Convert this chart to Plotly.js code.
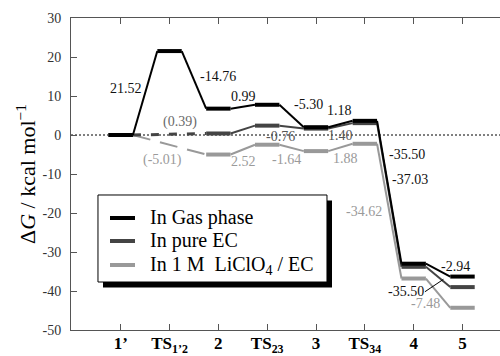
<!DOCTYPE html>
<html>
<head>
<meta charset="utf-8">
<script src="https://cdn.plot.ly/plotly-3.0.1.min.js"></script>
<style>
html, body { margin: 0; padding: 0; overflow: hidden; background: #fff; }
#chart { width: 500px; height: 356px; }
</style>
</head>
<body>
<div id="chart"></div>
<script>
// ---- data ----
const categories = ["1’", "TS<sub>1’2</sub>", "2", "TS<sub>23</sub>", "3", "TS<sub>34</sub>", "4", "5"];
const gasPhase = [0, 21.52, 6.76, 7.75, 2.0, 3.63, -33.0, -36.3];
const pureEC = [0, null, 0.39, 2.4, 1.64, 3.04, -33.8, -39.0];
const liClO4EC = [0, null, -5.01, -2.49, -4.13, -2.25, -36.8, -44.3];
const seriesNames = ["In Gas phase", "In pure EC", "In 1 M\u00a0\u00a0LiClO<sub>4</sub> / EC"];
const yTickValues = [-50, -40, -30, -20, -10, 0, 10, 20, 30];
const yTickLabels = ["-50", "-40", "-30", "-20", "-10", "0", "10", "20", "30"];
const stepLabels = ["21.52", "-14.76", "0.99", "-5.30", "1.18", "(0.39)", "(-5.01)", "2.52", "-0.76", "-1.64", "1.40", "1.88", "-35.50", "-37.03", "-34.62", "-2.94", "-35.50", "-7.48"];

// ---- layout / style config ----
const HW = 0.25;
const FONT = "Liberation Serif";
const colors = ["#000000", "#444444", "#999999"];
const labelColor = { k: "#111111", d: "#555555", m: "#6a6a6a", l: "#9a9a9a" };
// positions (data coords) and colour of each step label, in the order of stepLabels
const labelPos = [
  [0.11, 12.0, "k"], [1.99, 14.9, "k"], [2.52, 10.0, "k"], [3.84, 7.7, "k"], [4.49, 6.4, "k"],
  [1.21, 3.3, "m"], [0.85, -6.4, "l"], [2.52, -6.7, "l"], [3.28, -0.3, "d"], [3.39, -6.4, "l"],
  [4.51, 0.0, "d"], [4.61, -5.9, "l"], [5.86, -4.9, "k"], [5.92, -11.5, "k"], [4.99, -19.5, "l"],
  [6.85, -33.8, "k"], [5.84, -40.0, "k"], [6.25, -43.1, "l"]
];

function levels(vals) {
  const x = [], y = [];
  vals.forEach((v, i) => {
    if (v === null) return;
    x.push(i - HW, i + HW, null);
    y.push(v, v, null);
  });
  return { x, y };
}
function connectors(vals) {
  const solid = { x: [], y: [] }, dashed = { x: [], y: [] };
  let prev = null;
  vals.forEach((v, i) => {
    if (v === null) return;
    if (prev !== null) {
      const tgt = (i - prev > 1) ? dashed : solid;
      tgt.x.push(prev + HW, i - HW, null);
      tgt.y.push(vals[prev], v, null);
    }
    prev = i;
  });
  return { solid, dashed };
}

const allSeries = [gasPhase, pureEC, liClO4EC];
const traces = [];
[2, 1, 0].forEach(k => {
  const vals = allSeries[k];
  const c = connectors(vals);
  traces.push({ type: "scatter", mode: "lines", x: c.solid.x, y: c.solid.y, name: seriesNames[k],
    line: { color: colors[k], width: 2 }, showlegend: false, hoverinfo: "skip" });
  if (c.dashed.x.length) {
    traces.push({ type: "scatter", mode: "lines", x: c.dashed.x, y: c.dashed.y, name: seriesNames[k],
      line: { color: colors[k], width: k === 1 ? 3 : 2, dash: k === 1 ? "8px,10px" : "18px,10px" },
      showlegend: false, hoverinfo: "skip" });
  }
  const l = levels(vals);
  traces.push({ type: "scatter", mode: "lines", x: l.x, y: l.y, name: seriesNames[k],
    line: { color: colors[k], width: 4 }, showlegend: false, hoverinfo: "skip" });
});

// legend (drawn as box + samples + text)
const L = { x0: 0.0629, x1: 0.5967, y0: 0.1538, y1: 0.4327, dx: 0.0117, dy: 0.0176 };
const rowsY = [0.3590, 0.2853, 0.2083];
const shapes = [
  { type: "line", xref: "paper", x0: 0, x1: 1, yref: "y", y0: 0, y1: 0,
    line: { color: "#000", width: 1, dash: "2px,2px" }, layer: "below" },
  { type: "line", xref: "x", yref: "y", x0: 6.23, y0: -40.2, x1: 6.61, y1: -37.0,
    line: { color: "#000", width: 1 } },
  { type: "rect", xref: "paper", yref: "paper", x0: L.x0 + L.dx, x1: L.x1 + L.dx, y0: L.y0 - L.dy, y1: L.y1 - L.dy,
    fillcolor: "#000", line: { width: 0 }, layer: "above" },
  { type: "rect", xref: "paper", yref: "paper", x0: L.x0, x1: L.x1, y0: L.y0, y1: L.y1,
    fillcolor: "#fff", line: { color: "#000", width: 1 }, layer: "above" }
];
const annotations = [];
seriesNames.forEach((name, k) => {
  shapes.push({ type: "line", xref: "paper", yref: "paper", x0: 0.0909, x1: 0.1492, y0: rowsY[k], y1: rowsY[k],
    line: { color: colors[k], width: 4 }, layer: "above" });
  annotations.push({ xref: "paper", yref: "paper", x: 0.1795, y: rowsY[k], xanchor: "left", yanchor: "middle",
    text: name, showarrow: false, font: { family: FONT, size: 20, color: "#000" } });
});
stepLabels.forEach((t, i) => {
  const p = labelPos[i];
  annotations.push({ x: p[0], y: p[1], text: t, showarrow: false, xanchor: "center", yanchor: "middle",
    font: { family: FONT, size: 14, color: labelColor[p[2]] } });
});

const layout = {
  width: 500, height: 356,
  margin: { l: 71, r: 0, t: 18, b: 26, pad: 0 },
  paper_bgcolor: "#fff", plot_bgcolor: "#fff",
  showlegend: false,
  font: { family: FONT, color: "#000" },
  xaxis: {
    range: [-1.018, 7.768], tickmode: "array", tickvals: categories.map((_, i) => i), ticktext: categories,
    ticks: "inside", ticklen: 6, tickcolor: "#555", showline: true, linecolor: "#555", linewidth: 1,
    mirror: "ticks", showgrid: false, zeroline: false,
    tickfont: { family: FONT, size: 17, color: "#000", weight: "bold" }, ticklabelstandoff: -2
  },
  yaxis: {
    range: [-50, 30], tickmode: "array", tickvals: yTickValues, ticktext: yTickLabels,
    ticks: "inside", ticklen: 6, tickcolor: "#555", showline: true, linecolor: "#555", linewidth: 1,
    mirror: false, showgrid: false, zeroline: false,
    tickfont: { family: FONT, size: 14, color: "#333" }, ticklabelstandoff: 6,
    title: { text: "Δ<i>G</i> / kcal mol<sup>−1</sup>", font: { family: FONT, size: 22, color: "#000" }, standoff: 0 }
  },
  shapes, annotations
};

Plotly.newPlot("chart", traces, layout, { displayModeBar: false, staticPlot: true });
</script>
</body>
</html>
